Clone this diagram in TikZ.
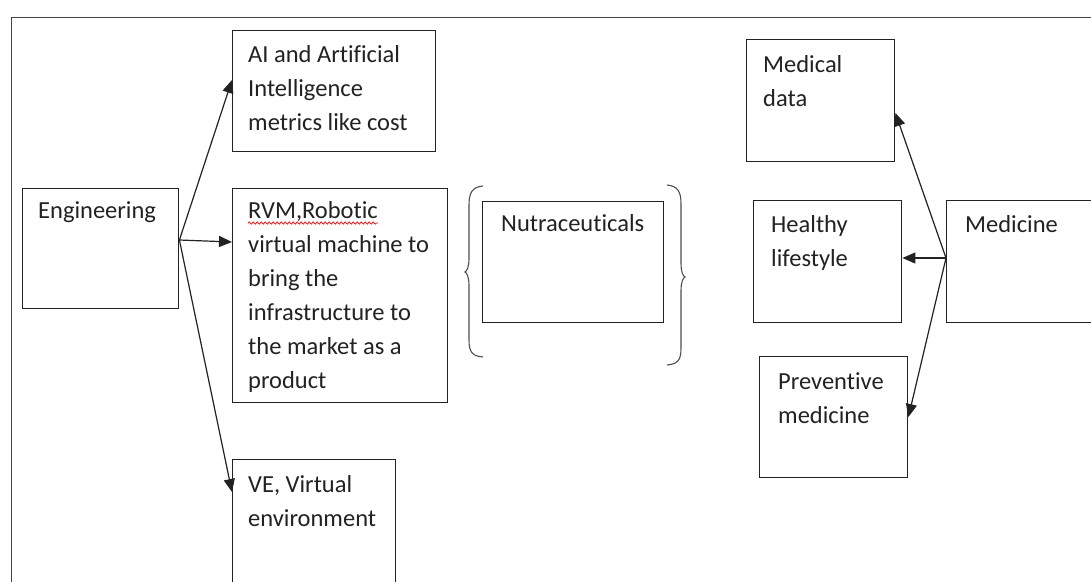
\documentclass[tikz,border=0pt]{standalone}
\usepackage{fontspec}
\setmainfont{Carlito}[Ligatures={NoCommon}]
\usetikzlibrary{arrows.meta,calc,decorations.pathmorphing}
\definecolor{ink}{HTML}{222222}
\newcommand{\lines}[1]{\parbox[t]{220pt}{\raggedright #1}}
\begin{document}
\begin{tikzpicture}[x=1pt,y=-1pt,
  box/.style={draw=ink,line width=1.4pt,inner sep=0pt,anchor=north west},
  txt/.style={text=ink,inner sep=0pt,anchor=base west,font=\fontsize{24.5}{34}\selectfont},
  arr/.style={draw=ink,line width=1.2pt,-{Triangle[length=13pt,width=11pt]}},
  bracestyle/.style={draw=ink!80,line width=1.1pt},
  frame/.style={draw=ink!85,line width=1pt}]
\clip (0,0) rectangle (1091,581);
\fill[white] (0,0) rectangle (1091,581);
% frame
\draw[frame] (11,600) -- (11,17) -- (1100,17);
% boxes
\node[box,minimum width=156pt,minimum height=120pt] (eng) at (22,188) {};
\node[box,minimum width=203pt,minimum height=121pt] (ai) at (232,30) {};
\node[box,minimum width=215pt,minimum height=214pt] (rvm) at (232,188) {};
\node[box,minimum width=163pt,minimum height=150pt] (ve) at (232,459) {};
\node[box,minimum width=181pt,minimum height=121pt] (nut) at (482,201) {};
\node[box,minimum width=148pt,minimum height=122pt] (med) at (746,39) {};
\node[box,minimum width=148pt,minimum height=122pt] (hl) at (753,200) {};
\node[box,minimum width=170pt,minimum height=122pt] (medic) at (946,200) {};
\node[box,minimum width=148pt,minimum height=121pt] (prev) at (759,356) {};
% texts
\node[txt] (engt) at ($(eng.north west)+(16,30)$) {\lines{Engineering}};
\node[txt] (ait) at ($(ai.north west)+(16,32)$) {\lines{AI and Artificial\\Intelligence\\metrics like cost}};
\node[txt] (rvmt) at ($(rvm.north west)+(16,30)$) {\lines{RVM,Robotic\\virtual machine to\\bring the\\infrastructure to\\the market as a\\product}};
\node[txt] (vet) at ($(ve.north west)+(16,33)$) {\lines{VE, Virtual\\environment}};
\node[txt] (nutt) at ($(nut.north west)+(19,30)$) {\lines{Nutraceuticals}};
\node[txt] (medt) at ($(med.north west)+(17,33)$) {\lines{Medical\\data}};
\node[txt] (hlt) at ($(hl.north west)+(18,32)$) {\lines{Healthy\\lifestyle}};
\node[txt] (medict) at ($(medic.north west)+(19,32)$) {\lines{Medicine}};
\node[txt] (prevt) at ($(prev.north west)+(19,33)$) {\lines{Preventive\\medicine}};
% spell-check squiggle
\coordinate (sqA) at ($(rvm.north west)+(16,35)$);
\coordinate (sqB) at ($(rvm.north west)+(146,35)$);
\draw[red,line width=0.7pt,decorate,decoration={snake,amplitude=1.2pt,segment length=4pt}] (sqA) -- (sqB);
% connector points
\coordinate (engO) at ($(eng.north east)+(0,52)$);
\coordinate (aiI) at ($(ai.north west)+(0,50)$);
\coordinate (rvmI) at ($(rvm.north west)+(0,54)$);
\coordinate (veI) at ($(ve.north west)+(0,33)$);
\coordinate (medicO) at ($(medic.north west)+(0,58)$);
\coordinate (medI) at ($(med.north east)+(0,74)$);
\coordinate (hlI) at ($(hl.north east)+(0,58)$);
\coordinate (prevI) at ($(prev.north east)+(0,61)$);
\draw[arr] (engO) -- (aiI);
\draw[arr] (engO) -- (rvmI);
\draw[arr] (engO) -- (veI);
\draw[arr] (medicO) -- (medI);
\draw[arr] (medicO) -- (hlI);
\draw[arr] (medicO) -- (prevI);
% braces
\draw[bracestyle] (483,186) .. controls (472,187) and (469,193) .. (469,205) -- (469,258) .. controls (469,267) and (467,271) .. (465,272) .. controls (467,273) and (469,277) .. (469,286) -- (469,340) .. controls (469,352) and (472,356) .. (483,357);
\draw[bracestyle] (667,185) .. controls (678,186) and (681,192) .. (681,204) -- (681,263) .. controls (681,272) and (683,276) .. (685,277) .. controls (683,278) and (681,282) .. (681,291) -- (681,348) .. controls (681,360) and (678,364) .. (667,365);
\end{tikzpicture}
\end{document}
